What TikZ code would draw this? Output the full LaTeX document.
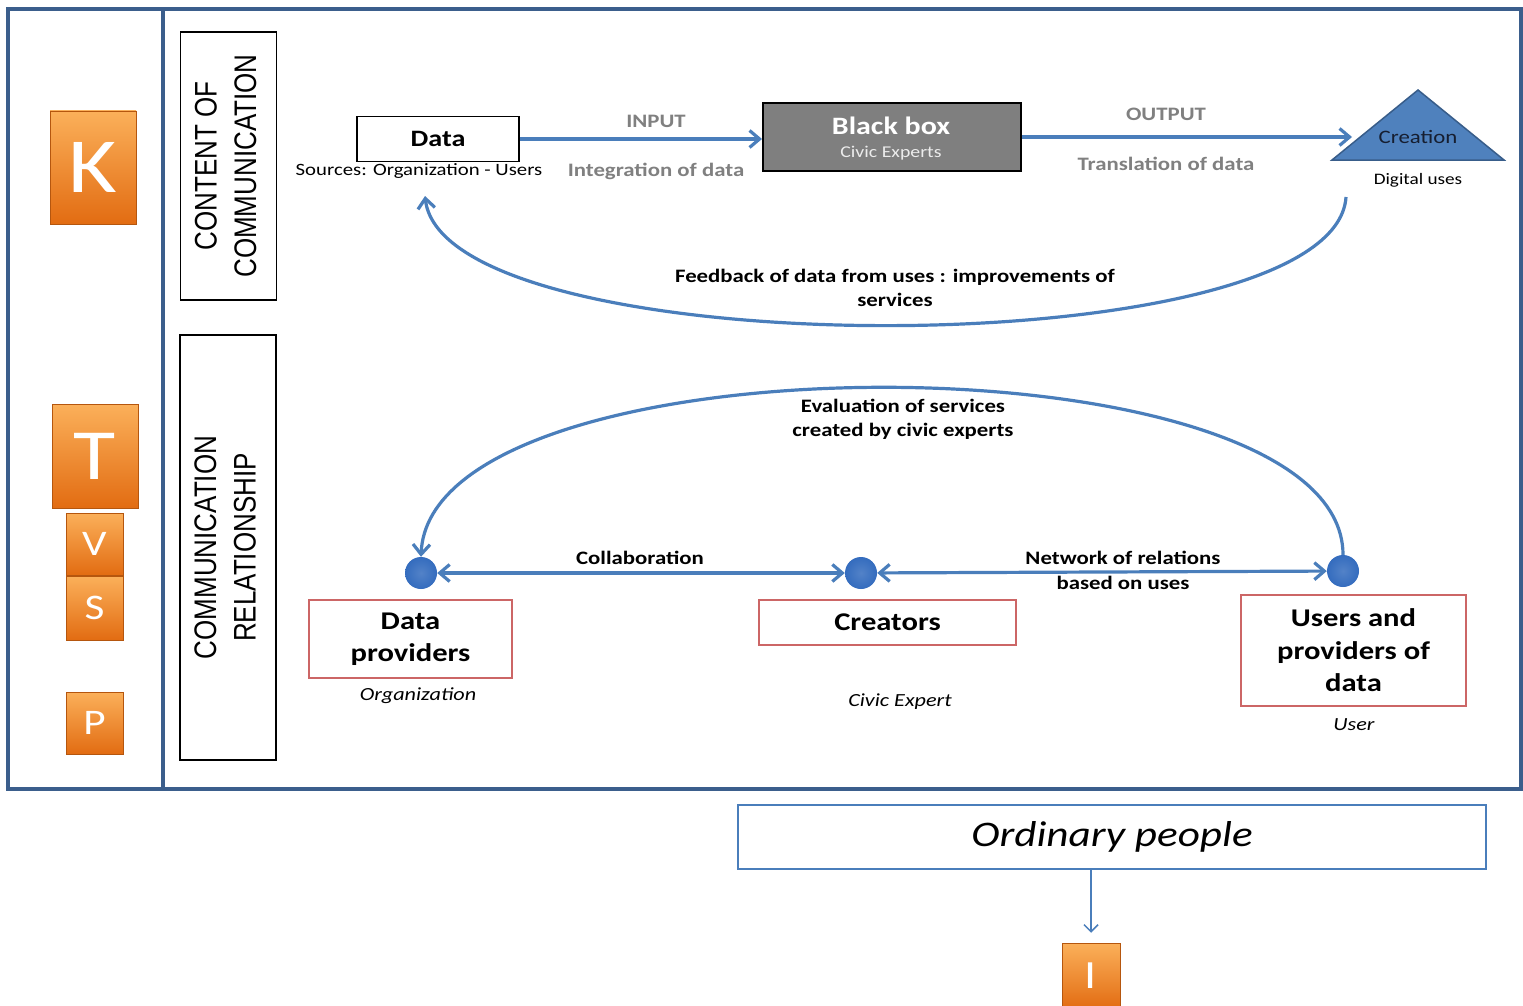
\documentclass[tikz,border=0pt]{standalone}
\usepackage{graphicx}
\usepackage{fontspec}
\setmainfont{Carlito}[FakeStretch=1.2]
\newfontfamily\capsfont{Liberation Sans}
\usetikzlibrary{arrows.meta,positioning}

\definecolor{frameblue}{RGB}{59,94,140}
\definecolor{arrowblue}{RGB}{74,126,187}
\definecolor{dotblue}{RGB}{52,108,190}
\definecolor{boxred}{RGB}{204,102,102}
\definecolor{labelgray}{RGB}{128,128,128}
\definecolor{boxgray}{RGB}{127,127,127}
\definecolor{orangetop}{RGB}{251,176,90}
\definecolor{orangebot}{RGB}{226,108,18}
\definecolor{triblue}{RGB}{79,129,189}
\definecolor{triedge}{RGB}{56,93,138}
\definecolor{darkink}{RGB}{22,30,48}

\begin{document}
\begin{tikzpicture}[x=1pt,y=-1pt,>={Straight Barb[length=10pt,width=17pt]},
 frame/.style={draw=frameblue,line width=3.5pt},
 sidebox/.style={draw=black,line width=1.5pt,minimum width=96,inner sep=0pt},
 tile/.style={top color=orangetop,bottom color=orangebot,draw=orangebot!80!black,line width=0.5pt,text=white,inner sep=0pt},
 conn/.style={draw=arrowblue,line width=3.2pt},
 dot/.style={circle,inner color=dotblue!85!white,outer color=dotblue,minimum size=32,inner sep=0pt},
 redbox/.style={draw=boxred,line width=1.8pt,align=center,inner sep=0pt,font=\fontsize{25.5}{32.5}\selectfont\bfseries},
 note/.style={font=\fontsize{19}{24.5}\selectfont\bfseries,align=center,inner sep=0pt},
 grey/.style={note,text=labelgray},
 role/.style={font=\fontsize{18.5}{22}\selectfont\itshape,inner sep=0pt}]
 \useasboundingbox[fill=white] (0,0) rectangle (1523,1006);

 % frame
 \draw[frame] (8,9) rectangle (1521,789);
 \draw[frame] (163,9) -- (163,789);

 % letter tiles
 \node[tile,minimum width=86,minimum height=113,font=\fontsize{78}{80}\selectfont] (tileK) at (93,167.5) {K};
 \node[tile,minimum width=86,minimum height=104,font=\fontsize{72}{74}\selectfont] (tileT) at (95,456) {T};
 \node[tile,minimum width=57,minimum height=62,font=\fontsize{36}{38}\selectfont] (tileV) at (94.5,544) {V};
 \node[tile,minimum width=57,minimum height=64,font=\fontsize{36}{38}\selectfont] (tileS) at (94.5,608) {S};
 \node[tile,minimum width=57,minimum height=62,font=\fontsize{36}{38}\selectfont] (tileP) at (94.5,723) {P};
 \node[tile,minimum width=58,minimum height=66,font=\fontsize{40}{42}\selectfont] (tileI) at (1091,976) {I};

 % side headings
 \node[sidebox,minimum height=268] (content) at (228.5,166)
  {\scalebox{1.2}[1]{\rotatebox{90}{\capsfont\fontsize{26}{33}\selectfont\begin{tabular}{@{}c@{}}CONTENT OF\\COMMUNICATION\end{tabular}}}};
 \node[sidebox,minimum height=425] (relation) at (228,547.5)
  {\scalebox{1.2}[1]{\rotatebox{90}{\capsfont\fontsize{26}{33}\selectfont\begin{tabular}{@{}c@{}}COMMUNICATION\\RELATIONSHIP\end{tabular}}}};

 % content of communication
 \node[draw=black,line width=1.5pt,fill=white,minimum width=162,minimum height=45,inner sep=0pt,
  font=\fontsize{23.5}{28}\selectfont\bfseries] (data) at (438,139) {Data};
 \node[font=\fontsize{17.3}{20}\selectfont,inner sep=0pt] (src) at (419,171) {Sources: Organization - Users};
 \node[draw=black,line width=2pt,fill=boxgray,minimum width=258,minimum height=67] (bb) at (892,137) {};
 \node[font=\fontsize{25}{30}\selectfont\bfseries,text=white,inner sep=0pt] (bbtitle) at (891,126) {Black box};
 \node[font=\fontsize{16.5}{20}\selectfont,text=white!85!gray,inner sep=0pt] (bbsub) at (891,153) {Civic Experts};
 \filldraw[fill=triblue,draw=triedge,line width=1.5pt] (1332,160) -- (1418,90) -- (1504,160) -- cycle;
 \node[font=\fontsize{19}{22}\selectfont,text=darkink,inner sep=0pt] (creation) at (1418,137) {Creation};
 \node[font=\fontsize{16}{20}\selectfont,inner sep=0pt] (digital) at (1418,180) {Digital uses};
 \coordinate (triW) at (1352,137);

 \draw[conn,->] (data.east) -- (data.east -| bb.west);
 \draw[conn,->] (bb.east) -- (triW);
 \node[grey] (input) at (656,121) {INPUT};
 \node[grey] (integ) at (656,171) {Integration of data};
 \node[grey] (output) at (1166,114) {OUTPUT};
 \node[grey] (transl) at (1166,164) {Translation of data};

 \coordinate (fbR) at (1346,197);
 \coordinate (fbL) at (425,196);
 \draw[conn,->] (fbR) .. controls (1335,368) and (445,368) .. (fbL);
 \node[note] (feedback) at (895,288) {Feedback of data from uses : improvements of\\services};

 % communication relationship
 \node[dot] (ldot) at (421,573) {};
 \node[dot] (mdot) at (861,573) {};
 \node[dot] (rdot) at (1343,571) {};
 \draw[conn,<->] (ldot) -- (mdot);
 \draw[conn,<->] (mdot) -- (rdot);
 \draw[conn,->] (rdot.north) .. controls +(0,-223) and +(9,-225) .. (ldot.north);
 \node[note] (collab) at (640,558) {Collaboration};
 \node[note] (network) at (1123,570.5) {Network of relations\\based on uses};
 \node[note] (evaluation) at (903,419.5) {Evaluation of services\\created by civic experts};

 \node[redbox,minimum width=203,minimum height=78] (providers) at (410.5,639) {Data\\providers};
 \node[redbox,minimum width=257,minimum height=45] (creators) at (887.5,622.5) {Creators};
 \node[redbox,minimum width=225,minimum height=111] (users) at (1353.5,650.5) {Users and\\providers of\\data};
 \node[role] (org) at (418,696) {Organization};
 \node[role] (civic) at (900,702) {Civic Expert};
 \node[role] (user) at (1354,725) {User};

 % ordinary people
 \node[draw=arrowblue,line width=1.5pt,minimum width=748,minimum height=64,inner sep=0pt,
  font=\fontsize{36}{40}\selectfont\itshape] (ordinary) at (1112,837) {Ordinary people};
 \draw[draw=arrowblue,line width=1.5pt,->,>={Straight Barb[length=7pt,width=14pt]}]
  (ordinary.south -| tileI) -- ([yshift=10pt]tileI.north);
\end{tikzpicture}
\end{document}
